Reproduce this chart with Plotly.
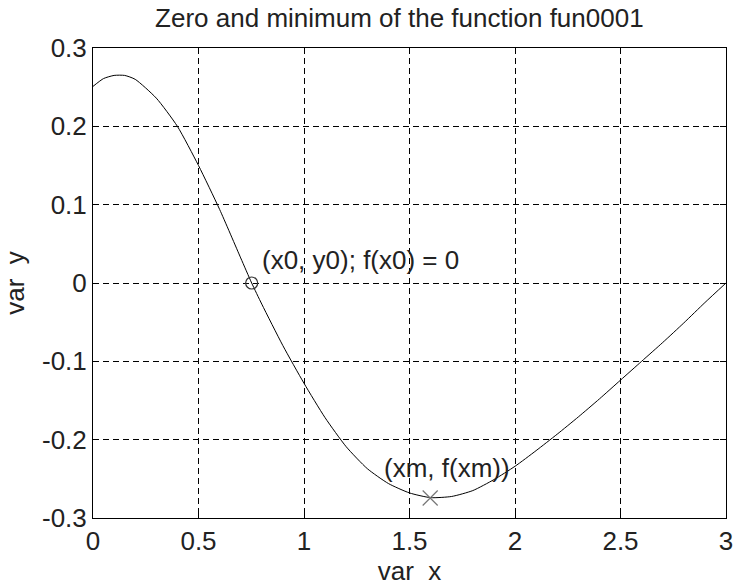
import plotly.graph_objects as go

# curve samples
x_vals = [0.0, 0.05, 0.1, 0.15, 0.2, 0.3, 0.4, 0.5, 0.6, 0.7, 0.752, 0.8, 0.9, 1.0, 1.1, 1.2, 1.3,
          1.4, 1.5, 1.6, 1.7, 1.8, 1.9, 2.0, 2.1, 2.2, 2.3, 2.4, 2.5, 2.6, 2.7, 2.8, 2.9, 3.0]
y_vals = [0.251, 0.261, 0.265, 0.265, 0.260, 0.236, 0.200, 0.150, 0.094, 0.032, 0.0, -0.027,
          -0.080, -0.128, -0.172, -0.209, -0.237, -0.256, -0.268, -0.274, -0.2725, -0.265,
          -0.251, -0.234, -0.214, -0.193, -0.171, -0.148, -0.124, -0.100, -0.076, -0.051,
          -0.025, 0.0]

zero_x, zero_y = [0.752], [0.0]
min_x, min_y = [1.598], [-0.2745]

x_ticks = [0, 0.5, 1, 1.5, 2, 2.5, 3]
x_ticktext = ["0", "0.5", "1", "1.5", "2", "2.5", "3"]
y_ticks = [0.3, 0.2, 0.1, 0, -0.1, -0.2, -0.3]
y_ticktext = ["0.3", "0.2", "0.1", "0", "-0.1", "-0.2", "-0.3"]

title_text = "Zero and minimum of the function fun0001"
zero_label = "(x0, y0); f(x0) = 0"
min_label = "(xm, f(xm))"

FONT = "Liberation Sans, Arial, sans-serif"
FS = 26
TC = "#222222"

fig = go.Figure()
fig.add_trace(go.Scatter(x=x_vals, y=y_vals, mode="lines",
                         line=dict(color="black", width=1, shape="spline", smoothing=0.6),
                         showlegend=False, hoverinfo="skip"))
fig.add_trace(go.Scatter(x=zero_x, y=zero_y, mode="markers",
                         marker=dict(symbol="circle-open", size=12, color="#333333",
                                     line=dict(width=1.2, color="#333333")),
                         showlegend=False))
fig.add_trace(go.Scatter(x=min_x, y=min_y, mode="markers",
                         marker=dict(symbol="x-thin-open", size=15, color="#777777",
                                     line=dict(width=1.2, color="#777777")),
                         showlegend=False))

fig.add_annotation(x=0.792, y=0.030, xref="x", yref="y", text=zero_label, showarrow=False,
                   xanchor="left", yanchor="middle", font=dict(family=FONT, size=FS, color=TC))
fig.add_annotation(x=1.372, y=-0.236, xref="x", yref="y", text=min_label, showarrow=False,
                   xanchor="left", yanchor="middle", font=dict(family=FONT, size=FS, color=TC))

axis_common = dict(showline=True, linecolor="black", linewidth=1, mirror="ticks",
                   ticks="inside", ticklen=6, tickcolor="black",
                   showgrid=True, gridcolor="black", gridwidth=1, griddash="6px,4px",
                   zeroline=False, tickfont=dict(family=FONT, size=FS, color=TC))

fig.update_xaxes(range=[0, 3], tickvals=x_ticks, ticktext=x_ticktext,
                 title=dict(text="var\u00a0\u00a0x", font=dict(family=FONT, size=FS, color=TC),
                            standoff=6),
                 **axis_common)
fig.update_yaxes(range=[-0.3, 0.3], tickvals=y_ticks, ticktext=y_ticktext,
                 title=dict(text="var\u00a0\u00a0y", font=dict(family=FONT, size=FS, color=TC),
                            standoff=10),
                 **axis_common)

fig.update_layout(
    width=741, height=588,
    margin=dict(l=93, r=8, t=48, b=65),
    paper_bgcolor="white", plot_bgcolor="white",
    title=dict(text=title_text, x=0.484, xref="paper", y=1 - 18 / 588, yref="container",
               yanchor="middle", xanchor="center",
               font=dict(family=FONT, size=FS, color=TC)),
    font=dict(family=FONT, size=FS, color=TC),
)

fig.write_html("out.html")
